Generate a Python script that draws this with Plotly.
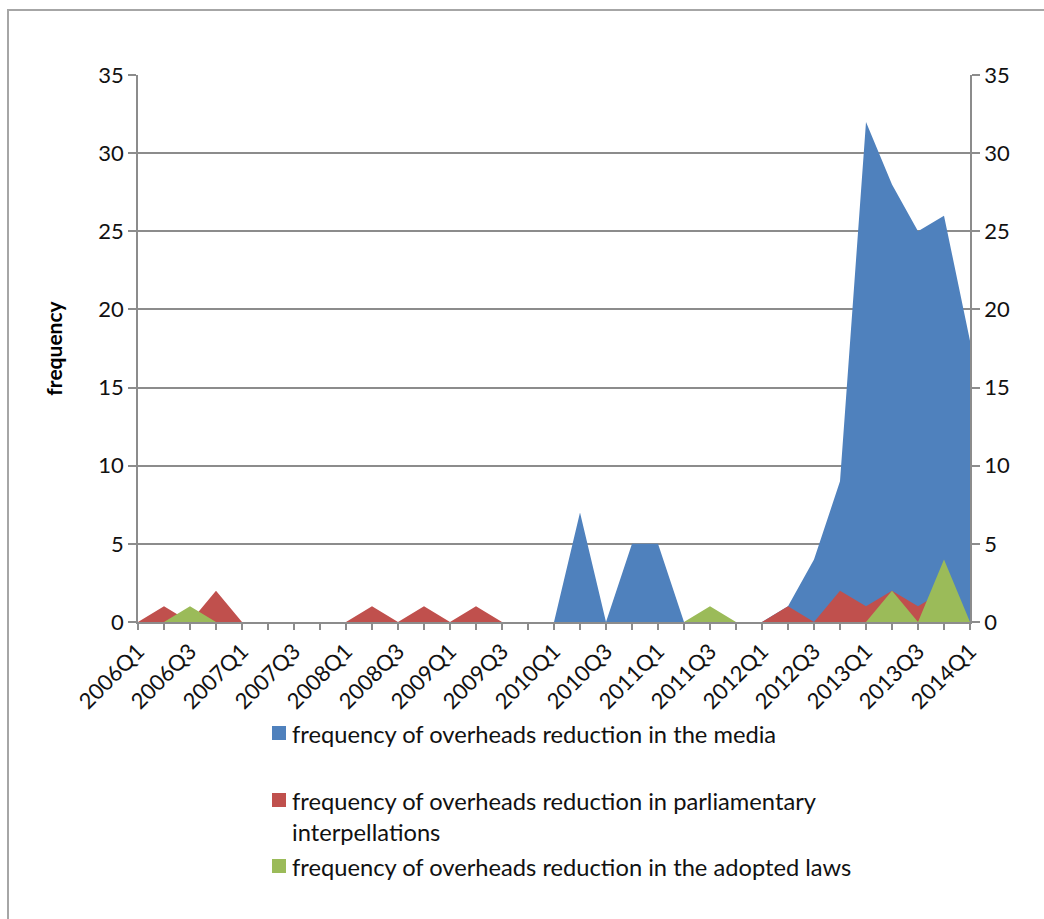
import plotly.graph_objects as go

# Quarterly series, 2006Q1 .. 2014Q1
quarters = [f"{y}Q{q}" for y in range(2006, 2015) for q in range(1, 5)][:33]

media = [0, 0, 0, 0, 0, 0, 0, 0, 0, 0, 0, 0, 0, 0, 0, 0,
         0, 7, 0, 5, 5, 0, 0, 0,
         0, 1, 4, 9, 32, 28, 25, 26, 18]
interpellations = [0, 1, 0, 2, 0, 0, 0, 0, 0, 1, 0, 1, 0, 1, 0, 0,
                   0, 0, 0, 0, 0, 0, 0, 0,
                   0, 1, 0, 2, 1, 2, 1, 2, 0]
laws = [0, 0, 1, 0, 0, 0, 0, 0, 0, 0, 0, 0, 0, 0, 0, 0,
        0, 0, 0, 0, 0, 0, 1, 0,
        0, 0, 0, 0, 0, 2, 0, 4, 0]

series_names = [
    "frequency of overheads reduction in the media",
    "frequency of overheads reduction in parliamentary<br>interpellations",
    "frequency of overheads reduction in the adopted laws",
]
series_colors = ["#4F81BD", "#C0504D", "#9BBB59"]
y_ticks = [0, 5, 10, 15, 20, 25, 30, 35]
tick_text = [q if i % 2 == 0 else "" for i, q in enumerate(quarters)]

W, H = 1044, 919
L, R, T, B = 138, 74, 75, 297
PW, PH = W - L - R, H - T - B
FONT = "Lato, 'Open Sans', sans-serif"
GRID = "#8C8C8C"
TXT = "#111111"


def px_x(px):
    return (px - L) / PW


def px_y(py):
    return (H - B - py) / PH


fig = go.Figure()
# media and interpellations on the left axis, adopted laws on the mirrored right axis
for vals, name, col, yax in zip([media, interpellations, laws], series_names,
                                series_colors, ["y", "y", "y2"]):
    fig.add_trace(go.Scatter(
        x=quarters, y=vals, name=name, mode="lines", yaxis=yax,
        line=dict(width=0, color=col), fill="tozeroy", fillcolor=col,
        showlegend=False,
    ))

axis_common = dict(
    range=[0, 35], tickmode="array", tickvals=y_ticks, ticks="outside", ticklen=8,
    tickcolor=GRID, tickwidth=1.5, showline=True, linecolor=GRID, linewidth=1.5,
    tickfont=dict(family=FONT, size=22, color=TXT), zeroline=False,
)

fig.update_layout(
    width=W, height=H,
    margin=dict(l=L, r=R, t=T, b=B, pad=0),
    paper_bgcolor="white", plot_bgcolor="white",
    showlegend=False,
    xaxis=dict(
        type="category", range=[0, 32], tickmode="array",
        tickvals=quarters, ticktext=tick_text, tickangle=-45,
        ticks="outside", ticklen=6, tickcolor=GRID, tickwidth=1.5,
        showline=True, linecolor=GRID, linewidth=1.5, showgrid=False,
        tickfont=dict(family=FONT, size=22, color=TXT),
    ),
    yaxis=dict(
        **axis_common, showgrid=True, gridcolor=GRID, gridwidth=1.5,
        title=dict(text="<b>frequency</b>", standoff=30,
                   font=dict(family=FONT, size=21, color="#000000")),
    ),
    yaxis2=dict(**axis_common, overlaying="y", side="right", showgrid=False,
                matches="y"),
)

# Chart frame
fig.add_shape(type="rect", xref="paper", yref="paper",
              x0=px_x(8), x1=px_x(1060), y0=px_y(935), y1=px_y(10),
              line=dict(color="#A6A6A6", width=2), fillcolor="rgba(0,0,0,0)", layer="below")

# Legend: colour keys with their labels
legend_rows = [733, 800, 866]
for name, col, ry in zip(series_names, series_colors, legend_rows):
    fig.add_shape(type="rect", xref="paper", yref="paper",
                  x0=px_x(272), x1=px_x(286), y0=px_y(ry + 7), y1=px_y(ry - 7),
                  line=dict(width=0), fillcolor=col)
    fig.add_annotation(xref="paper", yref="paper", x=px_x(290), y=px_y(ry - 15),
                       xanchor="left", yanchor="top", align="left", showarrow=False,
                       text=name, font=dict(family=FONT, size=23.7, color=TXT))

fig.write_html("out.html")
